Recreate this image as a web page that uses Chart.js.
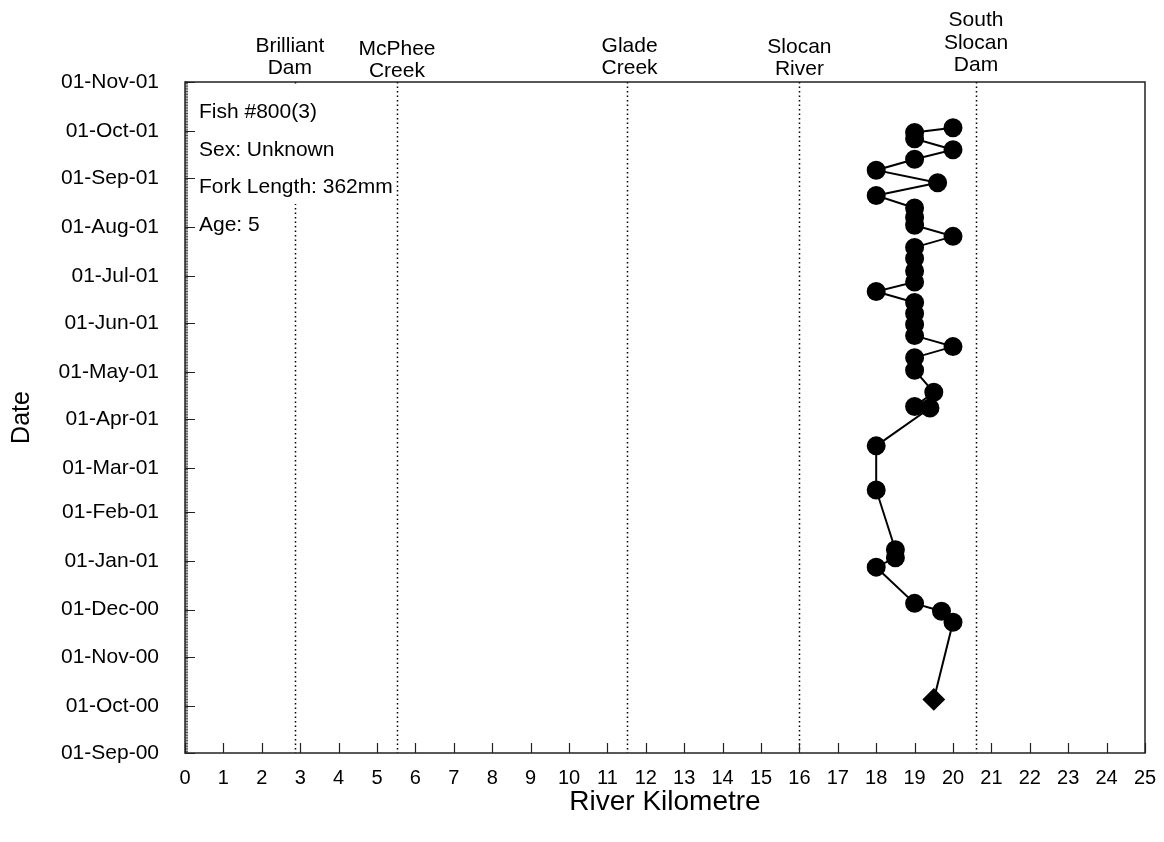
<!DOCTYPE html>
<html>
<head>
<meta charset="utf-8">
<script src="https://cdn.jsdelivr.net/npm/chart.js@4.4.1/dist/chart.umd.min.js"></script>
<style>
  html, body { margin: 0; padding: 0; background: #fff; }
  #wrap { width: 1164px; height: 842px; }
</style>
</head>
<body>
<div id="wrap"><canvas id="fishChart" width="1164" height="842"></canvas></div>
<script>
// Datos (km de río y fecha de cada detección)
const obsDates = [
    '2000-10-05', '2000-11-23', '2000-11-30', '2000-12-05', '2000-12-28',
    '2001-01-03', '2001-01-08', '2001-02-15', '2001-03-15', '2001-04-08',
    '2001-04-09', '2001-04-18', '2001-05-02', '2001-05-10', '2001-05-17',
    '2001-05-24', '2001-05-31', '2001-06-07', '2001-06-14', '2001-06-21',
    '2001-06-27', '2001-07-04', '2001-07-12', '2001-07-19', '2001-07-26',
    '2001-08-02', '2001-08-07', '2001-08-13', '2001-08-21', '2001-08-29',
    '2001-09-06', '2001-09-13', '2001-09-19', '2001-09-26', '2001-09-30',
    '2001-10-03'
];
const riverKm = [
    19.5, 20.0, 19.7, 19.0, 18.0,
    18.5, 18.5, 18.0, 18.0, 19.4,
    19.0, 19.5, 19.0, 19.0, 20.0,
    19.0, 19.0, 19.0, 19.0, 18.0,
    19.0, 19.0, 19.0, 19.0, 20.0,
    19.0, 19.0, 19.0, 18.0, 19.6,
    18.0, 19.0, 20.0, 19.0, 19.0,
    20.0
];

// Marcas del eje de fechas
const monthTicks = [
    '2000-09-01', '2000-10-01', '2000-11-01', '2000-12-01', '2001-01-01',
    '2001-02-01', '2001-03-01', '2001-04-01', '2001-05-01', '2001-06-01',
    '2001-07-01', '2001-08-01', '2001-09-01', '2001-10-01', '2001-11-01'
];
const monthLabels = [
    '01-Sep-00', '01-Oct-00', '01-Nov-00', '01-Dec-00', '01-Jan-01',
    '01-Feb-01', '01-Mar-01', '01-Apr-01', '01-May-01', '01-Jun-01',
    '01-Jul-01', '01-Aug-01', '01-Sep-01', '01-Oct-01', '01-Nov-01'
];

// Puntos de referencia sobre el río
const landmarkKm = [2.86, 5.52, 11.5, 16.0, 20.6];
const landmarkNames = [
    ['Brilliant', 'Dam'],
    ['McPhee', 'Creek'],
    ['Glade', 'Creek'],
    ['Slocan', 'River'],
    ['South', 'Slocan', 'Dam']
];

const fishNotes = ['Fish #800(3)', 'Sex: Unknown', 'Fork Length: 362mm', 'Age: 5'];

// estilo / posiciones de los textos (no son datos)
const labelNudgeX = [-5, 0, 3, 0, 0];
const labelBaseY = [74, 77, 74, 75, 71];
const FONT = "'Liberation Sans', Arial, sans-serif";

const DAY = 86400000;
const origin = Date.UTC(2000, 8, 1);
function toDay(s) {
    const p = s.split('-').map(Number);
    return (Date.UTC(p[0], p[1] - 1, p[2]) - origin) / DAY;
}
const monthDays = monthTicks.map(toDay);
const points = obsDates.map((d, i) => ({ x: riverKm[i], y: toDay(d) }));

const overlay = {
    id: 'overlay',
    beforeDatasetsDraw(chart) {
        const ctx = chart.ctx;
        const area = chart.chartArea;
        const xs = chart.scales.x;
        ctx.save();
        // líneas punteadas de los puntos de referencia
        ctx.strokeStyle = '#000';
        ctx.lineWidth = 1.5;
        ctx.setLineDash([1.5, 3]);
        landmarkKm.forEach(km => {
            const px = Math.round(xs.getPixelForValue(km)) + 0.5;
            ctx.beginPath();
            ctx.moveTo(px, area.top);
            ctx.lineTo(px, area.bottom);
            ctx.stroke();
        });
        ctx.setLineDash([]);
        // cuadro de texto con fondo blanco
        ctx.fillStyle = '#fff';
        ctx.fillRect(area.left + 6, area.top + 4, 204, 118);
        ctx.fillStyle = '#000';
        ctx.font = '21px ' + FONT;
        ctx.textAlign = 'left';
        ctx.textBaseline = 'alphabetic';
        fishNotes.forEach((t, i) => {
            ctx.fillText(t, area.left + 14, area.top + 36 + i * 37.7);
        });
        ctx.restore();
    },
    afterDraw(chart) {
        const ctx = chart.ctx;
        const area = chart.chartArea;
        const xs = chart.scales.x;
        const ys = chart.scales.y;
        ctx.save();
        ctx.strokeStyle = '#222';
        ctx.lineWidth = 1.5;
        ctx.strokeRect(area.left, area.top, area.right - area.left, area.bottom - area.top);
        ctx.lineWidth = 1.2;
        ctx.beginPath();
        // marcas hacia adentro en X
        xs.ticks.forEach(t => {
            const px = Math.round(xs.getPixelForValue(t.value)) + 0.5;
            ctx.moveTo(px, area.bottom);
            ctx.lineTo(px, area.bottom - 10);
        });
        // marcas mensuales en Y
        monthDays.forEach(d => {
            const py = Math.round(ys.getPixelForValue(d)) + 0.5;
            ctx.moveTo(area.left, py);
            ctx.lineTo(area.left + 10, py);
        });
        ctx.stroke();
        // marcas diarias menores
        ctx.lineWidth = 0.8;
        ctx.beginPath();
        for (let d = 0; d <= monthDays[monthDays.length - 1]; d++) {
            const py = ys.getPixelForValue(d);
            ctx.moveTo(area.left, py);
            ctx.lineTo(area.left + 3, py);
        }
        ctx.stroke();
        // nombres de los puntos de referencia
        ctx.fillStyle = '#000';
        ctx.font = '21px ' + FONT;
        ctx.textAlign = 'center';
        ctx.textBaseline = 'alphabetic';
        landmarkNames.forEach((lines, i) => {
            const px = xs.getPixelForValue(landmarkKm[i]) + labelNudgeX[i];
            lines.forEach((txt, j) => {
                ctx.fillText(txt, px, labelBaseY[i] - (lines.length - 1 - j) * 22.5);
            });
        });
        ctx.restore();
    }
};

new Chart(document.getElementById('fishChart'), {
    type: 'scatter',
    data: {
        datasets: [{
            data: points,
            showLine: true,
            borderColor: '#000',
            borderWidth: 2,
            backgroundColor: '#000',
            pointStyle: c => c.dataIndex === 0 ? 'rectRot' : 'circle',
            pointRadius: c => c.dataIndex === 0 ? 10 : 8.5,
            pointHoverRadius: 8.5,
            clip: false
        }]
    },
    options: {
        responsive: false,
        animation: false,
        events: [],
        layout: { padding: { top: 82, right: 19, left: 0, bottom: 0 } },
        plugins: {
            legend: { display: false },
            tooltip: { enabled: false }
        },
        scales: {
            x: {
                type: 'linear',
                min: 0,
                max: 25,
                grid: { display: false, drawTicks: false },
                border: { display: false },
                ticks: {
                    stepSize: 1,
                    autoSkip: false,
                    maxRotation: 0,
                    padding: 13,
                    color: '#000',
                    font: { size: 20, family: FONT }
                },
                title: {
                    display: true,
                    text: 'River Kilometre',
                    color: '#000',
                    font: { size: 28, family: FONT },
                    padding: { bottom: 23 }
                },
                afterFit: s => {
                    s.height = 89;
                    s.paddingLeft = 0;
                    s.paddingRight = 0;
                }
            },
            y: {
                type: 'linear',
                min: monthDays[0],
                max: monthDays[monthDays.length - 1],
                grid: { display: false, drawTicks: false },
                border: { display: false },
                afterBuildTicks: s => { s.ticks = monthDays.map(v => ({ value: v })); },
                ticks: {
                    autoSkip: false,
                    padding: 26,
                    color: '#000',
                    font: { size: 21, family: FONT },
                    callback: (v, i) => monthLabels[i]
                },
                title: {
                    display: true,
                    text: 'Date',
                    color: '#000',
                    font: { size: 25, family: FONT },
                    padding: { top: 7 }
                },
                afterFit: s => {
                    s.width = 185;
                    s.paddingTop = 0;
                    s.paddingBottom = 0;
                }
            }
        }
    },
    plugins: [overlay]
});
</script>
</body>
</html>
